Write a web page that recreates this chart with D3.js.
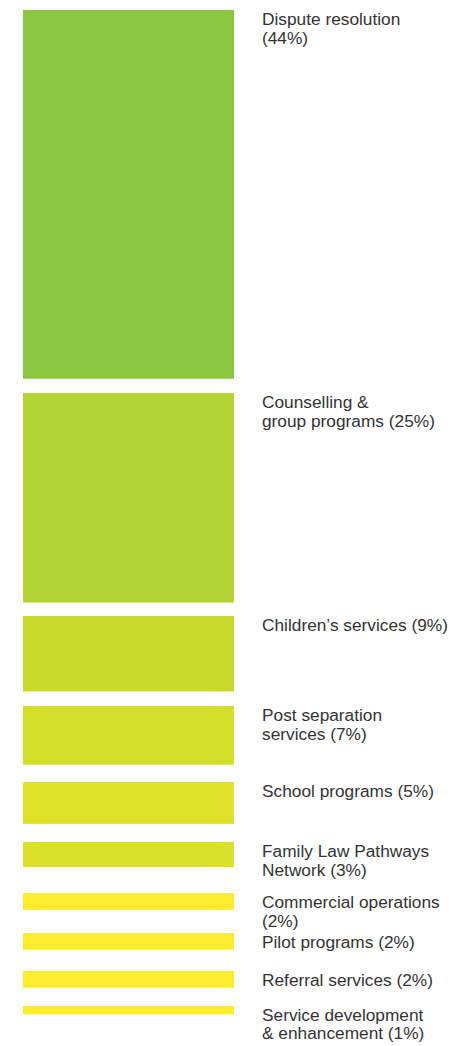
<!DOCTYPE html>
<html>
<head>
<meta charset="utf-8">
<script src="https://cdn.jsdelivr.net/npm/d3@7"></script>
<style>
  body { margin: 0; background: #fff; }
  text { font-family: "Liberation Sans", Arial, sans-serif; }
</style>
</head>
<body>
<svg id="chart"></svg>
<script>
// categories (a trailing "\n" puts the percentage on its own line)
const categories = [
  "Dispute resolution\n",
  "Counselling &\ngroup programs",
  "Children\u2019s services",
  "Post separation\nservices",
  "School programs",
  "Family Law Pathways\nNetwork",
  "Commercial operations\n",
  "Pilot programs",
  "Referral services",
  "Service development\n& enhancement"
];
// share of funding, percent
const shares = [44, 25, 9, 7, 5, 3, 2, 2, 2, 1];

// layout
const width = 453;
const height = 1046;
const margin = {top: 10, left: 23};
const barWidth = 211;
const labelX = 262;
const gaps = [14.3, 13.5, 14.6, 17.3, 18.1, 25.9, 23.2, 21.2, 18.2];
const palette = ["#8cc540", "#b3d334", "#c9da2b", "#d3de2a", "#e0e22a",
                 "#dbe02a", "#fcec2d", "#fcec2d", "#fcec2d", "#fcec2d"];

const svg = d3.select('#chart')
  .attr('width', width)
  .attr('height', height);

// height scale: percent -> pixels
const hScale = d3.scaleLinear()
  .domain([0, 100])
  .range([0, 838]);

const color = d3.scaleOrdinal()
  .domain(categories)
  .range(palette);

// stack the blocks with the gaps between them
let y = margin.top;
const data = categories.map((c, i) => {
  const d = {name: c, value: shares[i], y: y, h: hScale(shares[i])};
  y += d.h + (gaps[i] || 0);
  return d;
});

svg.selectAll('rect')
  .data(data)
  .enter()
  .append('rect')
  .attr('x', margin.left)
  .attr('y', d => d.y)
  .attr('width', barWidth)
  .attr('height', d => d.h)
  .style('fill', d => color(d.name));

// labels
const labels = svg.selectAll('.label')
  .data(data)
  .enter()
  .append('text')
  .attr('class', 'label')
  .attr('x', labelX)
  .attr('y', d => d.y + 15)
  .style('font-size', '17.3px')
  .style('fill', '#333');

labels.each(function(d) {
  const txt = d.name.endsWith('\n')
    ? d.name + `(${d.value}%)`
    : d.name + ` (${d.value}%)`;
  d3.select(this).selectAll('tspan')
    .data(txt.split('\n'))
    .enter()
    .append('tspan')
    .attr('x', labelX)
    .attr('dy', (l, i) => i === 0 ? 0 : 18.5)
    .text(l => l);
});
</script>
</body>
</html>
